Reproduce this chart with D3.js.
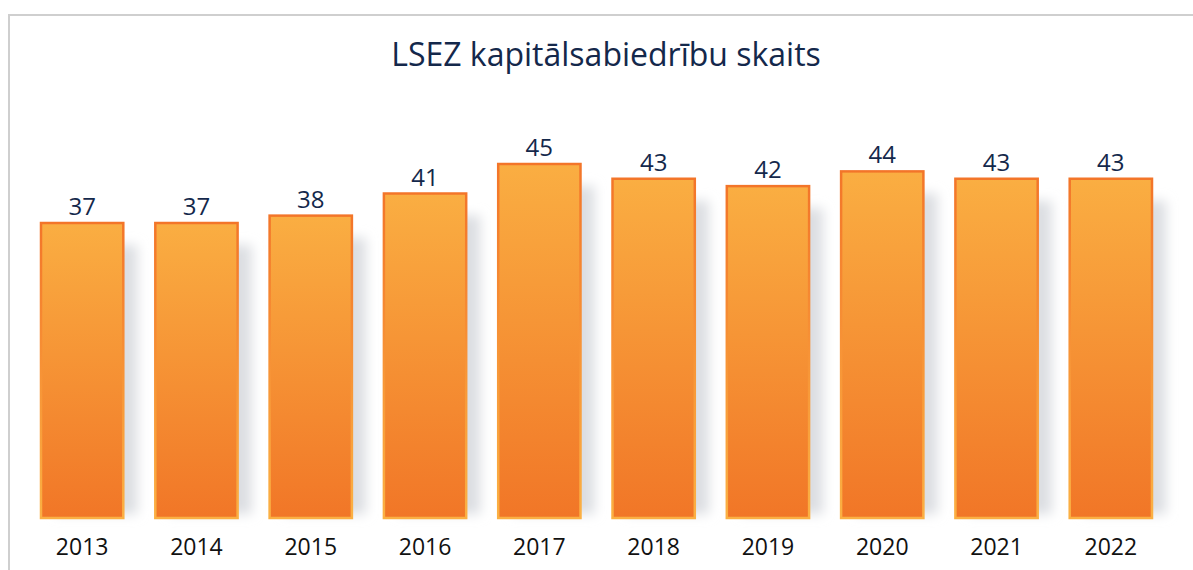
<!DOCTYPE html>
<html>
<head>
<meta charset="utf-8">
<style>
  body { margin: 0; background: #fff; }
  text { font-family: "Open Sans", "Noto Sans", sans-serif; }
</style>
</head>
<body>
<svg width="1193" height="570"></svg>
<script src="https://d3js.org/d3.v7.min.js"></script>
<script>
// data
var years = ["2013", "2014", "2015", "2016", "2017", "2018", "2019", "2020", "2021", "2022"];
var counts = [37, 37, 38, 41, 45, 43, 42, 44, 43, 43];
var title = "LSEZ kapitālsabiedrību skaits";

var svg = d3.select("svg");

var data = years.map(function(y, i) { return { year: y, value: counts[i] }; });

// frame
svg.append("path")
  .attr("d", "M9,570 V15 H1193")
  .attr("fill", "none")
  .attr("stroke", "#cfcfcf")
  .attr("stroke-width", 2);

svg.append("text")
  .attr("x", 606)
  .attr("y", 66)
  .attr("text-anchor", "middle")
  .attr("font-size", 32)
  .attr("fill", "#14284b")
  .text(title);

var x = d3.scaleBand()
  .domain(years)
  .range([25, 1168])
  .paddingInner(0.28)
  .paddingOuter(0.14);

var y = d3.scaleLinear()
  .domain([-3, 45])
  .range([518, 164]);

var defs = svg.append("defs");

var fillGrad = defs.append("linearGradient")
  .attr("id", "barFill")
  .attr("x1", 0).attr("y1", 0).attr("x2", 0).attr("y2", 1);
fillGrad.append("stop").attr("offset", "0%").attr("stop-color", "#faae42");
fillGrad.append("stop").attr("offset", "100%").attr("stop-color", "#f17627");

var strokeGrad = defs.append("linearGradient")
  .attr("id", "barStroke")
  .attr("x1", 0).attr("y1", 0).attr("x2", 0).attr("y2", 1);
strokeGrad.append("stop").attr("offset", "0%").attr("stop-color", "#f37529");
strokeGrad.append("stop").attr("offset", "100%").attr("stop-color", "#fbb043");

defs.append("filter")
  .attr("id", "blur")
  .attr("x", "-50%").attr("y", "-20%").attr("width", "200%").attr("height", "140%")
  .append("feGaussianBlur")
  .attr("stdDeviation", 6);

// shadows
svg.append("g")
  .selectAll("rect")
  .data(data)
  .enter().append("rect")
  .attr("x", function(d) { return x(d.year) + 14; })
  .attr("y", function(d) { return y(d.value) + 22; })
  .attr("width", x.bandwidth())
  .attr("height", function(d) { return y(-3) - y(d.value) - 26; })
  .attr("fill", "#dcdee2")
  .attr("filter", "url(#blur)");

// bars
svg.append("g")
  .selectAll("rect")
  .data(data)
  .enter().append("rect")
  .attr("x", function(d) { return x(d.year); })
  .attr("y", function(d) { return y(d.value); })
  .attr("width", x.bandwidth())
  .attr("height", function(d) { return y(-3) - y(d.value); })
  .attr("fill", "url(#barFill)")
  .attr("stroke", "url(#barStroke)")
  .attr("stroke-width", 2.5);

// value labels
svg.append("g")
  .selectAll("text")
  .data(data)
  .enter().append("text")
  .attr("x", function(d) { return x(d.year) + x.bandwidth() / 2; })
  .attr("y", function(d) { return y(d.value) - 8; })
  .attr("text-anchor", "middle")
  .attr("font-size", 24)
  .attr("fill", "#14284b")
  .text(function(d) { return d.value; });

// year axis
var axis = svg.append("g")
  .attr("transform", "translate(0,520)")
  .call(d3.axisBottom(x).tickSize(0).tickPadding(19));
axis.select(".domain").remove();
axis.selectAll("text")
  .attr("font-family", "\"Open Sans\", \"Noto Sans\", sans-serif")
  .attr("font-size", 23)
  .attr("fill", "#111");
</script>
</body>
</html>
